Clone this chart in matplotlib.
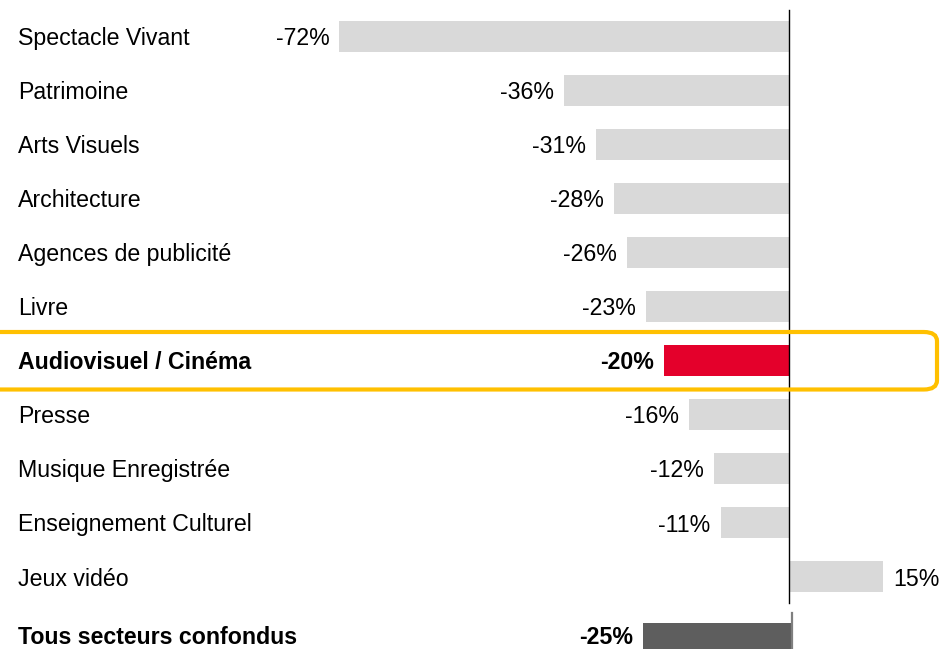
import matplotlib
matplotlib.use("Agg")
import matplotlib.pyplot as plt
from matplotlib.patches import FancyBboxPatch
from matplotlib.transforms import blended_transform_factory

plt.rcParams['font.family'] = ['Liberation Sans', 'DejaVu Sans']

categories = ["Spectacle Vivant", "Patrimoine", "Arts Visuels", "Architecture",
              "Agences de publicité", "Livre", "Audiovisuel / Cinéma", "Presse",
              "Musique Enregistrée", "Enseignement Culturel", "Jeux vidéo"]
values = [-72, -36, -31, -28, -26, -23, -20, -16, -12, -11, 15]
highlight = "Audiovisuel / Cinéma"

total_label = "Tous secteurs confondus"
total_value = -25

W, H = 940, 649
DPI = 100
fig = plt.figure(figsize=(W / DPI, H / DPI), dpi=DPI)

def px_axes(x0, y0_top, x1, y1_bottom):
    return fig.add_axes([x0 / W, 1 - y1_bottom / H, (x1 - x0) / W, (y1_bottom - y0_top) / H])

GRAY = "#D9D9D9"
RED = "#E4002B"
DARK = "#5E5E5E"
YELLOW = "#FFC000"
FS = 16.7
ROW = 54.0
BAR_H = 31 / ROW

# Main axes
ax = px_axes(0, 0, W, 603)
ppu = 6.25
zero_px = 789.3
ax.set_xlim(-zero_px / ppu, (W - zero_px) / ppu)
c0 = 36.5
ax.set_ylim((603 - c0) / ROW, -c0 / ROW)
ax.axis("off")

ypos = list(range(len(categories)))
colors = [RED if c == highlight else GRAY for c in categories]
ax.barh(ypos, values, height=BAR_H, color=colors, zorder=2)
ax.plot([0, 0], [(603 - c0) / ROW, (10 - c0) / ROW], color="black", lw=1.0, zorder=4,
        clip_on=False)

tr = blended_transform_factory(ax.transAxes, ax.transData)
for y, c, v in zip(ypos, categories, values):
    bold = c == highlight
    ax.text(18 / W, y, c, transform=tr, ha="left", va="center_baseline", fontsize=FS,
            fontweight="bold" if bold else "normal")
    lab = f"{v}%"
    if v < 0:
        ax.annotate(lab, (v, y), xytext=(-7.2, 0), textcoords="offset points",
                    ha="right", va="center_baseline", fontsize=FS,
                    fontweight="bold" if bold else "normal")
    else:
        ax.annotate(lab, (v, y), xytext=(7.2, 0), textcoords="offset points",
                    ha="left", va="center_baseline", fontsize=FS)

# Total axes
ax2 = px_axes(0, 610, W, H)
ppu2 = 5.96
zero2 = 792.5
ax2.set_xlim(-zero2 / ppu2, (W - zero2) / ppu2)
ct = 638.5
ax2.set_ylim((H - ct) / ROW, -(ct - 610) / ROW)
ax2.axis("off")
ax2.barh([0], [total_value], height=BAR_H, color=DARK, zorder=2)
ax2.plot([0, 0], [(H - ct) / ROW, -(ct - 613) / ROW], color="#7F7F7F", lw=1.6, zorder=3)
tr2 = blended_transform_factory(ax2.transAxes, ax2.transData)
ax2.text(18 / W, -1.5 / ROW, total_label, transform=tr2, ha="left", va="center",
         fontsize=FS, fontweight="bold", clip_on=False)
ax2.annotate(f"{total_value}%", (total_value, -1.5 / ROW), xytext=(-7.2, 0),
             textcoords="offset points", ha="right", va="center",
             fontsize=FS, fontweight="bold")

# Highlight box (figure pixel coords)
bx0, bx1 = -20, 937
by0, by1 = 332, 389.5
box = FancyBboxPatch((bx0 / W, 1 - by1 / H), (bx1 - bx0) / W, (by1 - by0) / H,
                     boxstyle="round,pad=0,rounding_size=0.014",
                     transform=fig.transFigure, fill=False, edgecolor=YELLOW,
                     lw=3.0, zorder=1)
fig.patches.append(box)

fig.savefig("out.png", dpi=DPI)
